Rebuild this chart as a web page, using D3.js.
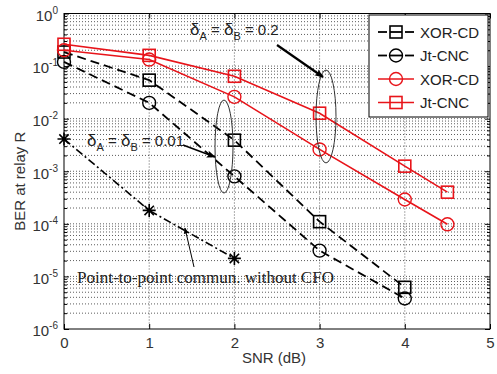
<!DOCTYPE html>
<html>
<head>
<meta charset="utf-8">
<script src="https://cdn.jsdelivr.net/npm/d3@7"></script>
<style>
  body { margin: 0; background: #fff; }
  svg { display: block; font-family: Arial, "Liberation Sans", sans-serif; }
</style>
</head>
<body>
<div id="chart"></div>
<script>
// data
const snr = [0, 1, 2, 3, 4];
const snrRed = [0, 1, 2, 3, 4, 4.5];
const snrP2P = [0, 1, 2];
const blackXorCD = [0.185, 0.054, 3.9e-3, 1.1e-4, 6.2e-6];
const blackJtCNC = [0.12, 0.02, 8e-4, 3.1e-5, 3.8e-6];
const redXorCD = [0.2, 0.133, 0.026, 2.6e-3, 2.9e-4, 9.8e-5];
const redJtCNC = [0.26, 0.16, 0.064, 0.0127, 1.25e-3, 4e-4];
const p2p = [4.1e-3, 1.8e-4, 2.2e-5];
const xTicks = [0, 1, 2, 3, 4, 5];
const yTicks = [1e-6, 1e-5, 1e-4, 1e-3, 1e-2, 1e-1, 1];
const legendLabels = ['XOR-CD', 'Jt-CNC', 'XOR-CD', 'Jt-CNC'];

const width = 497, height = 374;
const mLeft = 64, mRight = 490, mTop = 13.5, mBottom = 329;

const svg = d3.select('#chart').append('svg')
  .attr('width', width).attr('height', height);

const x = d3.scaleLinear().domain([0, 5]).range([mLeft, mRight]);
const y = d3.scaleLog().domain([1e-6, 1]).range([mBottom, mTop]);

// minor values for log grid
const minors = [];
for (let e = -6; e < 0; e++) {
  for (let k = 2; k <= 9; k++) minors.push(k * Math.pow(10, e));
}

const grid = svg.append('g')
  .attr('stroke', '#333').attr('stroke-width', 0.8)
  .attr('stroke-dasharray', '1,2');
grid.selectAll('.hminor').data(minors.concat(yTicks.slice(1, -1))).join('line')
  .attr('x1', mLeft).attr('x2', mRight)
  .attr('y1', d => y(d)).attr('y2', d => y(d));
grid.selectAll('.vgrid').data(xTicks.slice(1, -1)).join('line')
  .attr('x1', d => x(d)).attr('x2', d => x(d))
  .attr('y1', mTop).attr('y2', mBottom);

// axes
const xAxis = svg.append('g').attr('transform', `translate(0,${mBottom})`)
  .call(d3.axisBottom(x).tickValues(xTicks).tickSize(-5).tickPadding(8).tickFormat(d3.format('d')));
const yAxis = svg.append('g').attr('transform', `translate(${mLeft},0)`)
  .call(d3.axisLeft(y).tickValues(yTicks).tickSize(-5).tickPadding(6).tickFormat(''));
svg.append('g').attr('transform', `translate(0,${mTop})`)
  .call(d3.axisTop(x).tickValues(xTicks).tickSize(-5).tickFormat(''));
svg.append('g').attr('transform', `translate(${mRight},0)`)
  .call(d3.axisRight(y).tickValues(yTicks).tickSize(-5).tickFormat(''));
svg.append('g').attr('transform', `translate(${mLeft},0)`)
  .call(d3.axisLeft(y).tickValues(minors).tickSize(-3).tickFormat(''));
svg.append('g').attr('transform', `translate(${mRight},0)`)
  .call(d3.axisRight(y).tickValues(minors).tickSize(-3).tickFormat(''));
svg.selectAll('.domain').remove();
svg.selectAll('.tick line').attr('stroke', '#000');

xAxis.selectAll('.tick text').attr('font-size', 15).attr('fill', '#333')
  .attr('font-family', 'Arial, "Liberation Sans", sans-serif');
yAxis.selectAll('.tick text')
  .attr('font-size', 15).attr('fill', '#333').attr('dy', '0.45em')
  .attr('font-family', 'Arial, "Liberation Sans", sans-serif')
  .each(function (d) {
    const t = d3.select(this);
    t.append('tspan').text('10');
    t.append('tspan').attr('dy', -7).attr('font-size', 10)
      .text(Math.round(Math.log10(d)));
  });

svg.append('rect').attr('x', mLeft).attr('y', mTop)
  .attr('width', mRight - mLeft).attr('height', mBottom - mTop)
  .attr('fill', 'none').attr('stroke', '#000').attr('stroke-width', 1);

// axis titles
svg.append('text').attr('x', (mLeft + mRight) / 2 - 3).attr('y', 363)
  .attr('text-anchor', 'middle').attr('font-size', 15).attr('fill', '#333')
  .text('SNR (dB)');
svg.append('text').attr('transform', `translate(25,${(mTop + mBottom) / 2 + 10}) rotate(-90)`)
  .attr('text-anchor', 'middle').attr('font-size', 15).attr('fill', '#333')
  .text('BER at relay R');

// markers
function drawMarker(g, type, color) {
  if (type === 'square') {
    g.append('rect').attr('x', -6).attr('y', -6).attr('width', 12).attr('height', 12)
      .attr('fill', 'none').attr('stroke', color).attr('stroke-width', 1.6);
  } else if (type === 'circle') {
    g.append('circle').attr('r', 6.5)
      .attr('fill', 'none').attr('stroke', color).attr('stroke-width', 1.4);
  } else {
    const r = 6.5, s = r * 0.72;
    g.append('path')
      .attr('d', `M${-r},0H${r}M0,${-r}V${r}M${-s},${-s}L${s},${s}M${-s},${s}L${s},${-s}`)
      .attr('stroke', color).attr('stroke-width', 1.6);
  }
}

const series = [
  { xs: snr, ys: blackXorCD, color: '#000', dash: '9,5', marker: 'square', w: 1.8 },
  { xs: snr, ys: blackJtCNC, color: '#000', dash: '9,5', marker: 'circle', w: 1.8 },
  { xs: snrRed, ys: redXorCD, color: '#e8141a', dash: null, marker: 'circle', w: 1.6 },
  { xs: snrRed, ys: redJtCNC, color: '#e8141a', dash: null, marker: 'square', w: 1.6 },
  { xs: snrP2P, ys: p2p, color: '#000', dash: '8,3,2,3', marker: 'star', w: 1.6 }
];

const line = d3.line().x(d => x(d[0])).y(d => y(d[1]));
series.forEach(s => {
  const pts = s.xs.map((v, i) => [v, s.ys[i]]);
  svg.append('path').datum(pts).attr('d', line)
    .attr('fill', 'none').attr('stroke', s.color).attr('stroke-width', s.w)
    .attr('stroke-dasharray', s.dash);
  pts.forEach(p => {
    drawMarker(svg.append('g').attr('transform', `translate(${x(p[0])},${y(p[1])})`), s.marker, s.color);
  });
});

// annotations (placed in data units)
const defs = svg.append('defs');
defs.append('marker').attr('id', 'head').attr('viewBox', '0 0 10 10')
  .attr('refX', 9).attr('refY', 5).attr('markerWidth', 11).attr('markerHeight', 9)
  .attr('markerUnits', 'userSpaceOnUse').attr('orient', 'auto')
  .append('path').attr('d', 'M0,1L10,5L0,9L2,5Z').attr('fill', '#000');
defs.append('marker').attr('id', 'thin').attr('viewBox', '0 0 10 10')
  .attr('refX', 9).attr('refY', 5).attr('markerWidth', 8).attr('markerHeight', 6)
  .attr('markerUnits', 'userSpaceOnUse').attr('orient', 'auto')
  .append('path').attr('d', 'M0,1L10,5L0,9Z').attr('fill', '#000');

const ellipses = [
  { cx: 3.075, top: 0.084, bot: 1.44e-3, rx: 10 },
  { cx: 1.878, top: 0.0226, bot: 3.85e-4, rx: 9 }
];
ellipses.forEach(e => {
  svg.append('ellipse').attr('cx', x(e.cx))
    .attr('cy', (y(e.top) + y(e.bot)) / 2)
    .attr('rx', e.rx).attr('ry', (y(e.bot) - y(e.top)) / 2)
    .attr('fill', 'none').attr('stroke', '#333').attr('stroke-width', 1);
});

const arrows = [
  { from: [2.5, 0.252], to: [3.04, 0.062], head: 'head', w: 2.2 },
  { from: [1.397, 3.16e-3], to: [1.772, 1.87e-3], head: 'head', w: 1.6 },
  { from: [1.526, 1.51e-5], to: [1.42, 8.3e-5], head: 'thin', w: 1 }
];
arrows.forEach(a => {
  svg.append('line')
    .attr('x1', x(a.from[0])).attr('y1', y(a.from[1]))
    .attr('x2', x(a.to[0])).attr('y2', y(a.to[1]))
    .attr('stroke', '#000').attr('stroke-width', a.w)
    .attr('marker-end', `url(#${a.head})`);
});

function deltaLabel(px, py, val) {
  const t = svg.append('text').attr('x', x(px)).attr('y', y(py))
    .attr('font-size', 15).attr('fill', '#222');
  t.append('tspan').attr('font-size', 17).text('δ');
  t.append('tspan').attr('dy', 5).attr('font-size', 11).text('A');
  t.append('tspan').attr('dy', -5).text(' = ');
  t.append('tspan').attr('font-size', 17).text('δ');
  t.append('tspan').attr('dy', 5).attr('font-size', 11).text('B');
  t.append('tspan').attr('dy', -5).text(' = ' + val);
}
deltaLabel(1.479, 0.39, '0.2');
deltaLabel(0.27, 3.02e-3, '0.01');

svg.append('text').attr('x', x(0.153)).attr('y', y(7.5e-6))
  .attr('font-family', '"Liberation Serif", "Times New Roman", serif')
  .attr('font-size', 17).attr('fill', '#222')
  .text('Point-to-point commun. without CFO');

// legend
const lgX = 369, lgY = 15, lgW = 119, lgH = 102, rowStep = 23.5;
const lg = svg.append('g');
lg.append('rect').attr('x', lgX).attr('y', lgY).attr('width', lgW).attr('height', lgH)
  .attr('fill', '#fff').attr('stroke', '#000').attr('stroke-width', 1);
series.slice(0, 4).forEach((s, i) => {
  const cy = lgY + 17 + i * rowStep;
  const cx = lgX + 27;
  if (s.dash) {
    lg.append('line').attr('x1', cx - 18).attr('x2', cx - 9).attr('y1', cy).attr('y2', cy)
      .attr('stroke', s.color).attr('stroke-width', s.w);
    lg.append('line').attr('x1', cx + 9).attr('x2', cx + 18).attr('y1', cy).attr('y2', cy)
      .attr('stroke', s.color).attr('stroke-width', s.w);
    lg.append('line').attr('x1', cx - 6).attr('x2', cx + 6).attr('y1', cy).attr('y2', cy)
      .attr('stroke', s.color).attr('stroke-width', s.w);
  } else {
    lg.append('line').attr('x1', cx - 18).attr('x2', cx + 18).attr('y1', cy).attr('y2', cy)
      .attr('stroke', s.color).attr('stroke-width', s.w);
  }
  drawMarker(lg.append('g').attr('transform', `translate(${cx},${cy})`), s.marker, s.color);
  lg.append('text').attr('x', lgX + 51).attr('y', cy + 5.5)
    .attr('font-size', 15).attr('fill', '#222').text(legendLabels[i]);
});
</script>
</body>
</html>
